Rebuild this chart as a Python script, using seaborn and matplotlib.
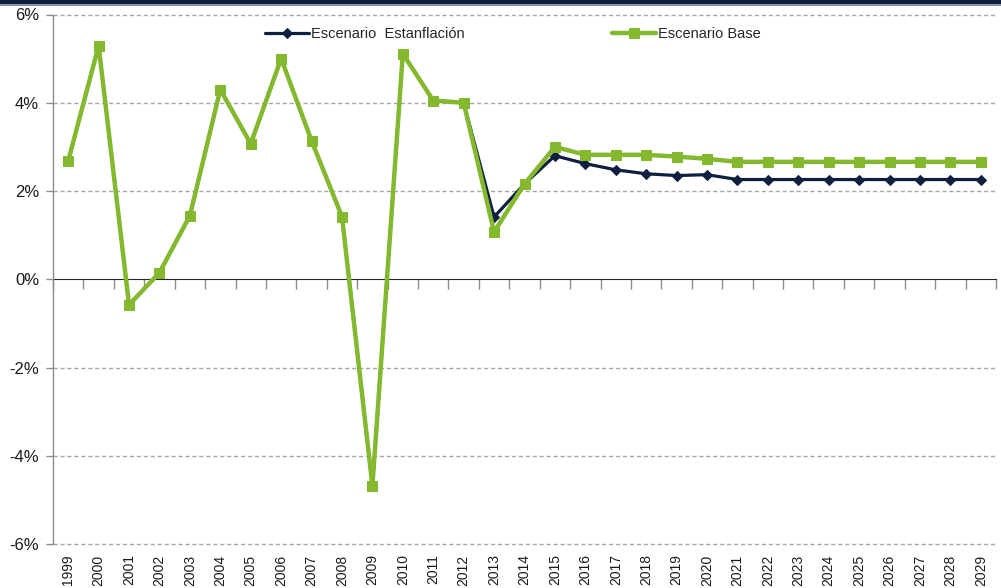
import matplotlib
matplotlib.use("Agg")
import matplotlib.pyplot as plt
import matplotlib.ticker as mticker
from matplotlib.patches import Rectangle
import seaborn as sns
import pandas as pd
import numpy as np

years = [str(y) for y in range(1999, 2030)]
escenario_base = [2.68, 5.29, -0.58, 0.15, 1.44, 4.30, 3.07, 5.00, 3.14, 1.42,
                  -4.68, 5.11, 4.05, 4.00, 1.07, 2.16, 3.00, 2.82, 2.82, 2.82,
                  2.78, 2.73, 2.66, 2.66, 2.66, 2.66, 2.66, 2.66, 2.66, 2.66, 2.66]
escenario_estanflacion = [2.68, 5.29, -0.58, 0.15, 1.44, 4.30, 3.07, 5.00, 3.14, 1.42,
                          -4.68, 5.11, 4.05, 4.00, 1.41, 2.16, 2.80, 2.62, 2.48, 2.39,
                          2.35, 2.37, 2.26, 2.26, 2.26, 2.26, 2.26, 2.26, 2.26, 2.26, 2.26]
yticks = [-6, -4, -2, 0, 2, 4, 6]
label_estanf = "Escenario  Estanflación"
label_base = "Escenario Base"

NAVY = "#0f1f3f"
GREEN = "#84b92f"
GRID = "#a6a6a6"
AXIS = "#8c8c8c"

sns.set_style("white")
plt.rcParams["font.family"] = ["Liberation Sans", "DejaVu Sans"]

df = pd.DataFrame({"year": years, "estanf": escenario_estanflacion, "base": escenario_base})
df["pos"] = np.arange(len(years))

fig = plt.figure(figsize=(10.01, 5.88), dpi=100)
W, H = 1001, 588
left, right, top, bottom = 53, 996, 14.5, 544
ax = fig.add_axes([left / W, 1 - bottom / H, (right - left) / W, (bottom - top) / H])

sns.lineplot(data=df, x="pos", y="estanf", ax=ax, color=NAVY, linewidth=2.3,
             marker="D", markersize=5, markeredgecolor=NAVY, markerfacecolor=NAVY,
             label=label_estanf, sort=False, zorder=3)
sns.lineplot(data=df, x="pos", y="base", ax=ax, color=GREEN, linewidth=3.2,
             marker="s", markersize=7.5, markeredgecolor=GREEN, markerfacecolor=GREEN,
             label=label_base, sort=False, zorder=4)

n = len(years)
ax.set_xlim(-0.5, n - 0.5)
ax.set_ylim(-6, 6)
ax.set_xlabel("")
ax.set_ylabel("")

# y axis
ax.set_yticks(yticks)
ax.yaxis.set_major_formatter(mticker.FuncFormatter(lambda v, p: f"{v:.0f}%"))
ax.tick_params(axis="y", direction="out", length=5, width=1, color=AXIS,
               labelsize=12, labelcolor="#1a1a1a", pad=5, left=True)
for v in yticks:
    if v != 0:
        ax.axhline(v, color=GRID, linewidth=1, linestyle=(0, (3, 2)), zorder=1, clip_on=False)

# x labels at bottom
ax.set_xticks(np.arange(n))
ax.set_xticklabels(years, rotation=90, fontsize=10, color="#1a1a1a")
ax.tick_params(axis="x", length=0, pad=7.5)

for s in ["top", "right", "bottom"]:
    ax.spines[s].set_visible(False)
ax.spines["left"].set_color(AXIS)
ax.spines["left"].set_linewidth(1)

# category axis line at 0% with boundary tick marks
sec = ax.secondary_xaxis(0.5)
sec.set_xticks(np.arange(n + 1) - 0.5)
sec.tick_params(axis="x", direction="in", length=7, width=1, color=AXIS, labelbottom=False)
sec.set_xticklabels([])
sec.spines["bottom"].set_color(AXIS)
sec.spines["bottom"].set_linewidth(1)

# legend
ax.legend(loc="center left", bbox_to_anchor=(265 / W, 1 - 34 / H), bbox_transform=fig.transFigure,
          ncol=2, frameon=False, fontsize=10.5, handlelength=3.0, handletextpad=0.15,
          columnspacing=10.1, borderpad=0, borderaxespad=0)

# top band
fig.patches.append(Rectangle((0, 1 - 4 / H), 1, 4 / H, transform=fig.transFigure,
                             facecolor="#0e1e3c", edgecolor="none", zorder=0))
fig.patches.append(Rectangle((0, 1 - 5.5 / H), 1, 1.5 / H, transform=fig.transFigure,
                             facecolor="#8a94a8", edgecolor="none", zorder=0))

fig.savefig("out.png", dpi=100)
